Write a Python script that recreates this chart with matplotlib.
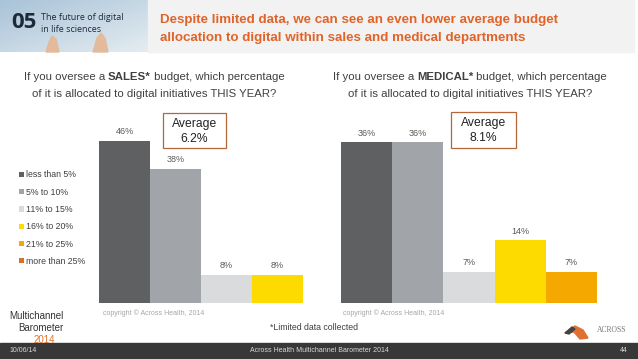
import numpy as np
import matplotlib
matplotlib.use('Agg')
from matplotlib import pyplot as plt
from matplotlib.patches import Rectangle, Polygon

# data
categories = ['less than 5%', '5% to 10%', '11% to 15%', '16% to 20%', '21% to 25%', 'more than 25%']
sales = [46, 38, 8, 8, 0, 0]
medical = [36, 36, 7, 14, 7, 0]
avg_sales = '6.2%'
avg_medical = '8.1%'
colors = ['#5e6062', '#a1a5a9', '#d9dbdd', '#fedb00', '#f5a800', '#d6702b']

plt.rcParams['font.family'] = ['Liberation Sans', 'DejaVu Sans']

W, H = 638, 359
fig = plt.figure(figsize=(W / 100, H / 100), dpi=100)
bg = fig.add_axes([0, 0, 1, 1])
bg.set_xlim(0, W)
bg.set_ylim(H, 0)
bg.axis('off')
renderer = fig.canvas.get_renderer()


def mixed_line(parts, cx, y, size, color):
    # parts: list of (text, weight); centred at cx
    objs = []
    for s, w in parts:
        objs.append(bg.text(0, y, s, fontsize=size, fontweight=w, color=color, va='center', ha='left'))
    widths = [o.get_window_extent(renderer).width for o in objs]
    x = cx - sum(widths) / 2
    for o, wd in zip(objs, widths):
        o.set_x(x)
        x += wd


# header
sky = np.linspace(0, 1, 60)[None, :] * 0.5 + np.linspace(0, 1, 30)[:, None] * 0.5
bg.imshow(sky, cmap=matplotlib.colors.LinearSegmentedColormap.from_list('sky', ['#a9c3d8', '#e4ecf1']),
          extent=[0, 148, 52, 0], aspect='auto', zorder=0)
bg.add_patch(Polygon([[46, 52], [49, 42], [52, 36], [56, 39], [59, 52]], color='#e3bb9c', zorder=1))
bg.add_patch(Polygon([[93, 52], [97, 38], [101, 33], [105, 38], [108, 52]], color='#e3bb9c', zorder=1))
bg.add_patch(Rectangle((148, 0), 486, 52, color='#f2f2f2', zorder=0))
bg.text(11, 23, '05', fontsize=16, fontweight='bold', color='#1d2b38', va='center', family='Open Sans')
bg.text(41, 17, 'The future of digital', fontsize=6.5, color='#1d2b38', va='center', family='Open Sans')
bg.text(41, 29, 'in life sciences', fontsize=6.5, color='#1d2b38', va='center', family='Open Sans')
bg.text(160, 20, 'Despite limited data, we can see an even lower average budget',
        fontsize=9.6, fontweight='bold', color='#e06429', va='center')
bg.text(160, 38, 'allocation to digital within sales and medical departments',
        fontsize=9.6, fontweight='bold', color='#e06429', va='center')

# subtitles
mixed_line([('If you oversee a ', 'normal'), ('SALES*', 'bold'), (' budget, which percentage', 'normal')],
           154, 77, 8.2, '#404040')
mixed_line([('of it is allocated to digital initiatives THIS YEAR?', 'normal')], 154, 94, 8.2, '#404040')
mixed_line([('If you oversee a ', 'normal'), ('MEDICAL*', 'bold'), (' budget, which percentage', 'normal')],
           470, 77, 8.2, '#404040')
mixed_line([('of it is allocated to digital initiatives THIS YEAR?', 'normal')], 470, 94, 8.2, '#404040')

# charts
base = 302.7
top = 120
ax1 = fig.add_axes([99 / W, (H - base) / H, 204 / W, (base - top) / H])
ax2 = fig.add_axes([341 / W, (H - base) / H, 256 / W, (base - top) / H])
for ax, vals, ymax, ncol in [(ax1, sales, 51.9, 4), (ax2, medical, 41.0, 5)]:
    for i, (cat, v) in enumerate(zip(categories, vals)):
        ax.bar(i, v, width=1.0, color=colors[i], label=cat)
        if v > 0:
            ax.text(i, v + ymax * 0.05, f'{v}%', ha='center', va='center', fontsize=6.5, color='#595959')
    ax.set_xlim(-0.5, ncol - 0.5)
    ax.set_ylim(0, ymax)
    ax.axis('off')

leg = ax1.legend(loc='upper left', bbox_to_anchor=(15 / W, 1 - 166 / H), bbox_transform=fig.transFigure,
                 frameon=False, borderpad=0, handlelength=0.55, handleheight=0.55, handletextpad=0.2,
                 labelspacing=0.95, fontsize=6.3)
for t in leg.get_texts():
    t.set_color('#404040')

# average boxes
for (x0, y0, x1, y1), val in [((163, 113, 226, 148), avg_sales), ((451, 112, 516, 148), avg_medical)]:
    bg.add_patch(Rectangle((x0, y0), x1 - x0, y1 - y0, fill=True, facecolor='white',
                           edgecolor='#b5673a', lw=0.9, zorder=5))
    bg.text((x0 + x1) / 2, y0 + 11, 'Average', ha='center', va='center', fontsize=8.7, color='#222222', zorder=6)
    bg.text((x0 + x1) / 2, y0 + 26, val, ha='center', va='center', fontsize=8.7, color='#222222', zorder=6)

# copyright / notes
bg.text(103, 313, 'copyright \u00a9 Across Health, 2014', fontsize=5, color='#a6a6a6', va='center')
bg.text(343, 313, 'copyright \u00a9 Across Health, 2014', fontsize=5, color='#a6a6a6', va='center')
bg.text(314, 328, '*Limited data collected', fontsize=6.3, color='#404040', va='center', ha='center')

# bottom-left logo
bg.text(9, 316, 'Multichannel', fontsize=7, color='#333333', va='center')
bg.text(18, 328, 'Barometer', fontsize=7, color='#333333', va='center')
bg.text(34, 340, '2014', fontsize=7, color='#d9742a', va='center')

# bottom-right logo
bg.add_patch(Polygon([[565, 333], [575, 326], [583, 330], [588, 338], [580, 339], [574, 332]],
                     color='#e07030', zorder=2))
bg.add_patch(Polygon([[565, 333], [572, 327], [575, 329], [569, 334]], color='#444444', zorder=3))
bg.text(597, 330, 'ACROSS', fontsize=5.5, color='#777777', va='center', family='Liberation Serif')

# footer
bg.add_patch(Rectangle((0, 343), W, 16, color='#383838', zorder=0))
bg.text(9, 351, '10/06/14', fontsize=5, color='#d9d9d9', va='center')
bg.text(319, 351, 'Across Health Multichannel Barometer 2014', fontsize=5, color='#d9d9d9', va='center', ha='center')
bg.text(628, 351, '44', fontsize=5, color='#d9d9d9', va='center', ha='right')

fig.savefig('out.png', dpi=100)
